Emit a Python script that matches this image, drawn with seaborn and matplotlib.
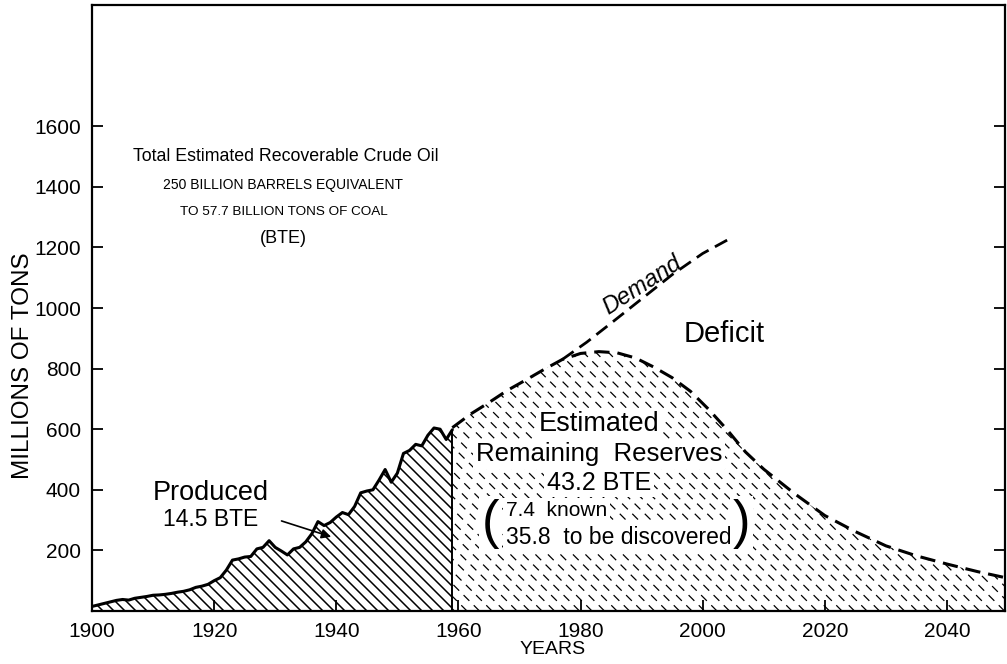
import numpy as np
import matplotlib
matplotlib.use("Agg")
import matplotlib.pyplot as plt
import seaborn as sns
from matplotlib.collections import LineCollection

# Crude oil produced, millions of tons (coal equivalent)
produced_years = list(range(1900, 1960))
produced_values = [15, 20, 25, 30, 35, 38, 36, 42, 45, 48,
                   52, 53, 55, 58, 62, 65, 70, 78, 82, 88,
                   100, 110, 135, 168, 172, 178, 180, 205, 210, 232,
                   210, 198, 185, 205, 210, 228, 255, 295, 282, 292,
                   310, 325, 318, 345, 390, 396, 400, 432, 467, 425,
                   455, 520, 530, 550, 545, 580, 604, 600, 566, 598]

# Estimated remaining reserves curve (dashed)
reserve_years = [1959, 1962, 1965, 1968, 1971, 1974, 1977, 1980, 1983, 1986,
                 1989, 1992, 1995, 1998, 2001, 2004, 2007, 2010, 2015, 2020,
                 2025, 2030, 2035, 2040, 2045, 2050]
reserve_values = [605, 650, 688, 728, 762, 797, 830, 850, 856, 852,
                  835, 805, 770, 725, 665, 598, 525, 468, 388, 315,
                  262, 215, 182, 155, 130, 108]

# Demand curve, branching off the reserves curve
demand_years = [1977, 1981, 1985, 1990, 1995, 2000, 2005]
demand_values = [830, 887, 950, 1030, 1110, 1180, 1235]

year_ticks = [1900, 1920, 1940, 1960, 1980, 2000, 2020, 2040]
ton_ticks = [200, 400, 600, 800, 1000, 1200, 1400, 1600]

sns.set_theme(style="ticks")
plt.rcParams['font.family'] = ['Liberation Sans', 'DejaVu Sans']
plt.rcParams['text.color'] = 'black'
plt.rcParams['axes.labelcolor'] = 'black'

W_PX, H_PX = 913, 606
fig = plt.figure(figsize=(10.07, 6.64), dpi=100)
ax = fig.add_axes([92 / 1007, 53 / 664, W_PX / 1007, H_PX / 664])


def hatch_area(ax, coll, spacing, **kw):
    # diagonal "\" lines at 45 deg in pixel space, clipped to the filled area
    segs = []
    for c in np.arange(0, W_PX + H_PX, spacing):
        segs.append([(c / W_PX, 0), ((c - H_PX) / W_PX, 1)])
    lc = LineCollection(segs, transform=ax.transAxes, color='black', **kw)
    ax.add_collection(lc, autolim=False)
    lc.set_clip_path(coll.get_paths()[0], ax.transData)


prod_fill = ax.fill_between(produced_years, produced_values, 0,
                            facecolor='none', edgecolor='none')
res_fill = ax.fill_between(reserve_years, reserve_values, 0,
                           facecolor='none', edgecolor='none')
hatch_area(ax, prod_fill, 11, linewidths=1.1)
hatch_area(ax, res_fill, 12.5, linewidths=0.9, linestyles=[(0, (6.5, 5))])

sns.lineplot(x=produced_years, y=produced_values, color='black', lw=2.2, ax=ax)
ax.vlines(produced_years[-1], 0, produced_values[-1], color='black', lw=1.4)
sns.lineplot(x=reserve_years, y=reserve_values, color='black', lw=2.2,
             linestyle=(0, (5, 2.6)), ax=ax)
sns.lineplot(x=demand_years, y=demand_values, color='black', lw=2.0,
             linestyle=(0, (5, 2.6)), ax=ax)

ax.set_xlim(1900, 2049.5)
ax.set_ylim(0, 2000)
ax.set_xticks(year_ticks)
ax.set_yticks(ton_ticks)
ax.tick_params(direction='in', length=8, width=1.3, right=True,
               labelsize=15, colors='black')
ax.tick_params(axis='x', pad=8)
ax.tick_params(axis='y', pad=8)
for s in ax.spines.values():
    s.set_linewidth(1.6)
    s.set_color('black')
ax.set_xlabel('YEARS', fontsize=14)
ax.set_ylabel('MILLIONS OF TONS', fontsize=17.5)
ax.xaxis.set_label_coords(0.505, -0.05)
ax.yaxis.set_label_coords(-0.064, 0.404)

clear = dict(facecolor='white', edgecolor='none', pad=2)

# annotations
ax.text(1931.7, 1500, 'Total Estimated Recoverable Crude Oil', ha='center',
        va='center', fontsize=12.8)
ax.text(1931.2, 1405, '250 BILLION BARRELS EQUIVALENT', ha='center',
        va='center', fontsize=10)
ax.text(1931.4, 1316, 'TO 57.7 BILLION TONS OF COAL', ha='center',
        va='center', fontsize=9.7)
ax.text(1931.4, 1230, '(BTE)', ha='center', va='center', fontsize=13)

ax.text(1990, 1076, 'Demand', ha='center', va='center', fontsize=17,
        style='italic', rotation=33)
ax.text(2003.5, 915, 'Deficit', ha='center', va='center', fontsize=21)

ax.text(1983, 617, 'Estimated', ha='center', va='center', fontsize=19.5,
        bbox=clear)
ax.text(1983, 517, 'Remaining  Reserves', ha='center', va='center',
        fontsize=18.5, bbox=clear)
ax.text(1983, 424, '43.2 BTE', ha='center', va='center', fontsize=18,
        bbox=clear)
ax.text(1967.8, 331, '7.4  known', ha='left', va='center', fontsize=15,
        bbox=clear)
ax.text(1967.8, 242, '35.8  to be discovered', ha='left', va='center',
        fontsize=16.5, bbox=clear)
ax.text(1965.3, 287, '(', ha='center', va='center', fontsize=38, bbox=clear)
ax.text(2006.3, 287, ')', ha='center', va='center', fontsize=38, bbox=clear)

ax.text(1919.4, 391, 'Produced', ha='center', va='center', fontsize=19.5)
ax.text(1919.4, 302, '14.5 BTE', ha='center', va='center', fontsize=16.5)
ax.annotate('', xy=(1939.6, 242), xytext=(1930.6, 300),
            arrowprops=dict(arrowstyle='-|>', color='black', lw=1.2,
                            mutation_scale=14))

fig.savefig('out.png', dpi=100)
